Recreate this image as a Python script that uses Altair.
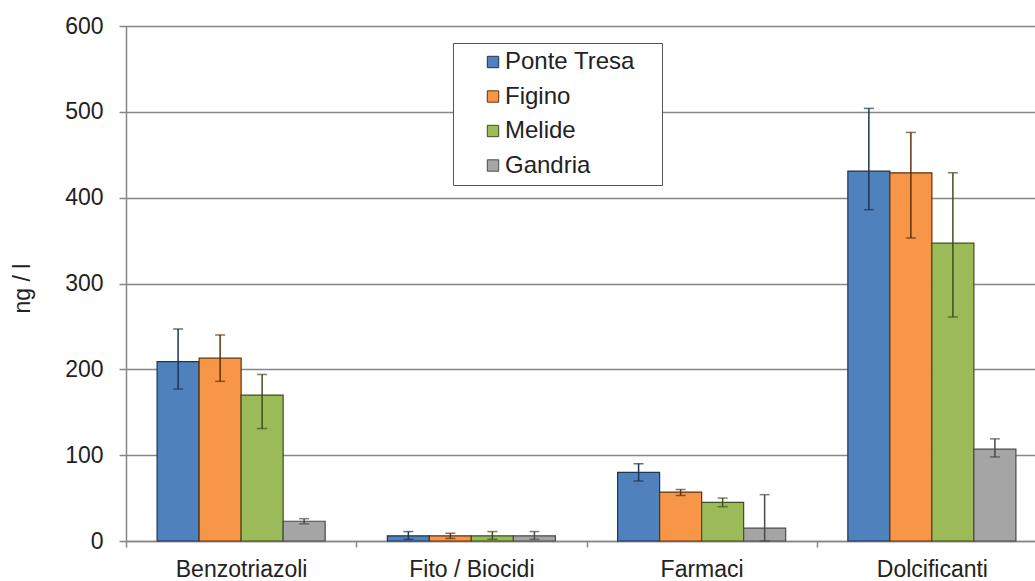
import altair as alt
import pandas as pd

# Categories and sampling sites
categories = ["Benzotriazoli", "Fito / Biocidi", "Farmaci", "Dolcificanti"]
sites = ["Ponte Tresa", "Figino", "Melide", "Gandria"]

# Mean concentrations (ng/l) per site, in category order
ponte_tresa = [209, 6, 80, 431]
figino = [213, 6, 57, 429]
melide = [170, 6, 45, 347]
gandria = [23, 6, 15, 107]

# Error bar extents (lower / upper), in category order
ponte_tresa_lo = [177, 2, 70, 386]
ponte_tresa_hi = [247, 11, 90, 504]
figino_lo = [186, 3, 53, 353]
figino_hi = [240, 9, 60, 476]
melide_lo = [131, 2, 40, 261]
melide_hi = [194, 11, 50, 429]
gandria_lo = [20, 2, 0, 98]
gandria_hi = [26, 11, 54, 119]

y_ticks = [0, 100, 200, 300, 400, 500, 600]

fill_colors = ["#4F81BD", "#F79646", "#9BBB59", "#A5A5A5"]
dark_colors = ["#1E3553", "#5E3210", "#3E4F22", "#4A4A4A"]

series = {
    "Ponte Tresa": (ponte_tresa, ponte_tresa_lo, ponte_tresa_hi),
    "Figino": (figino, figino_lo, figino_hi),
    "Melide": (melide, melide_lo, melide_hi),
    "Gandria": (gandria, gandria_lo, gandria_hi),
}

rows = []
for site in sites:
    vals, lo, hi = series[site]
    for i, cat in enumerate(categories):
        rows.append({"categoria": cat, "sito": site, "valore": vals[i],
                     "lo": lo[i], "hi": hi[i]})
df = pd.DataFrame(rows)

FONT = "Liberation Sans"

x_enc = alt.X(
    "categoria:N", sort=categories, title=None,
    scale=alt.Scale(range=[0, 921], paddingInner=0, paddingOuter=0),
    axis=alt.Axis(labelAngle=0, labelFontSize=23, labelColor="#222222",
                  labelFont=FONT, labelPadding=11, tickBand="extent",
                  tickSize=6, tickColor="#868686", domainColor="#868686",
                  domainWidth=1.5, tickWidth=1.5, grid=False),
)
xoff_enc = alt.XOffset("sito:N", sort=sites,
                       scale=alt.Scale(paddingInner=0, paddingOuter=0.74))

fill_scale = alt.Scale(domain=sites, range=fill_colors)
stroke_scale = alt.Scale(domain=sites, range=dark_colors)

# legend entries get a little trailing room before the frame
legend = alt.Legend(
    title=None, orient="none", legendX=327, legendY=17,
    labelFontSize=24, labelFont=FONT, labelColor="#222222",
    symbolType="square", symbolSize=130, symbolStrokeWidth=1,
    padding=7, rowPadding=10.5, symbolOffset=21, labelOffset=0,
    strokeColor="#555555", fillColor="white",
    labelExpr="datum.label + '\u00a0\u00a0\u00a0\u200b'",
)

base = alt.Chart(df).encode(x=x_enc, xOffset=xoff_enc)

bars = base.mark_bar(strokeWidth=1.2).encode(
    y=alt.Y("valore:Q", title="ng / l",
            scale=alt.Scale(domain=[0, 600], nice=False),
            axis=alt.Axis(values=y_ticks, labelFontSize=23, labelFont=FONT,
                          labelColor="#222222", labelPadding=16,
                          tickSize=7, tickColor="#868686", tickWidth=1.5,
                          domainColor="#868686", domainWidth=1.5,
                          gridColor="#868686", gridWidth=1.4,
                          titleFontSize=23, titleFont=FONT,
                          titleFontWeight="normal", titleColor="#222222",
                          titleAngle=-90, titleX=-104, titleY=262,
                          titleAlign="center", titleBaseline="middle")),
    fill=alt.Fill("sito:N", sort=sites, scale=fill_scale, legend=legend),
    stroke=alt.Stroke("sito:N", sort=sites, scale=stroke_scale, legend=legend),
)

err = base.mark_rule(strokeWidth=1.5).encode(
    y="lo:Q", y2="hi:Q",
    stroke=alt.Stroke("sito:N", sort=sites, scale=stroke_scale, legend=legend),
)

cap_color = alt.Color("sito:N", sort=sites,
                      scale=alt.Scale(domain=sites, range=dark_colors),
                      legend=None)
cap_lo = base.mark_tick(size=10, thickness=1.5).encode(y="lo:Q", color=cap_color)
cap_hi = base.mark_tick(size=10, thickness=1.5).encode(y="hi:Q", color=cap_color)

chart = alt.layer(bars, err, cap_lo, cap_hi).properties(
    width=909, height=515,
    autosize=alt.AutoSizeParams(type="none"),
    padding={"left": 126, "top": 26, "right": 0, "bottom": 40},
).configure_view(stroke=None).configure(background="white")

chart.save("out.html", embed_options={"renderer": "svg", "actions": False})
